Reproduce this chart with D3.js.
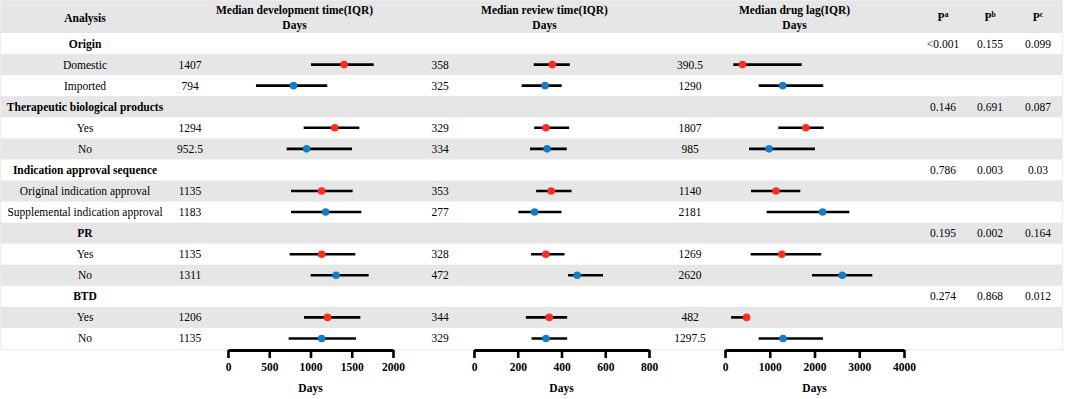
<!DOCTYPE html>
<html>
<head>
<meta charset="utf-8">
<script src="https://cdn.jsdelivr.net/npm/d3@7"></script>
<style>
  body { margin: 0; background: #fff; }
  svg { display: block; font-family: "Liberation Serif", "Times New Roman", serif; }
</style>
</head>
<body>
<div id="forest"></div>
<script>
const WIDTH = 1065;
const HEIGHT = 399;

const BAND_COLOR = '#e7e6e7';
const RED_COLOR = '#ff2d1e';
const BLUE_COLOR = '#137fc3';
const FONT_SIZE = 11.5;

// groups and their two sub-rows
const groups = ["Origin", "Therapeutic biological products", "Indication approval sequence", "PR", "BTD"];
const subLabels = [
    ["Domestic", "Imported"],
    ["Yes", "No"],
    ["Original indication approval", "Supplemental indication approval"],
    ["Yes", "No"],
    ["Yes", "No"]
];

// development time (days), one entry per sub-row
const devMedian = [1407, 794, 1294, 952.5, 1135, 1183, 1135, 1311, 1206, 1135];
const devQ1 = [1006, 339, 917, 711, 764, 764, 747, 1002, 921, 735];
const devQ3 = [1766, 1204, 1592, 1503, 1511, 1616, 1543, 1705, 1604, 1551];

// review time (days)
const revMedian = [358, 325, 329, 334, 353, 277, 328, 472, 344, 329];
const revQ1 = [273, 218, 275, 256, 284, 203, 261, 430, 237, 263];
const revQ3 = [438, 401, 435, 424, 446, 400, 414, 590, 426, 426];

// drug lag (days)
const lagMedian = [390.5, 1290, 1807, 985, 1140, 2181, 1269, 2620, 482, 1297.5];
const lagQ1 = [186, 752, 1192, 536, 581, 931, 574, 1944, 134, 752];
const lagQ3 = [1714, 2197, 2205, 2011, 1683, 2778, 2152, 3292, 540, 2190];

// p values per group
const pA = ["<0.001", "0.146", "0.786", "0.195", "0.274"];
const pB = ["0.155", "0.691", "0.003", "0.002", "0.868"];
const pC = ["0.099", "0.087", "0.03", "0.164", "0.012"];

const devTicks = [0, 500, 1000, 1500, 2000];
const revTicks = [0, 200, 400, 600, 800];
const lagTicks = [0, 1000, 2000, 3000, 4000];

// build row list: a bold header row per group, then its sub-rows
const rows = [];
let k = 0;
groups.forEach((g, gi) => {
    rows.push({ type: "group", label: g, gi: gi });
    subLabels[gi].forEach((s, si) => {
        rows.push({ type: "sub", label: s, si: si, i: k });
        k++;
    });
});

const HEADER_H = 33;
const TABLE_BOTTOM = 349;

const y = d3.scaleBand()
    .domain(d3.range(rows.length))
    .range([HEADER_H, TABLE_BOTTOM]);

// headX = centre of the column header (text column + plot column)
const panels = [
    { title: "Median development time(IQR)", med: devMedian, lo: devQ1, hi: devQ3, ticks: devTicks,
      textX: 190, headX: 294.5, x: d3.scaleLinear().domain([0, 2000]).range([228, 393]) },
    { title: "Median review time(IQR)", med: revMedian, lo: revQ1, hi: revQ3, ticks: revTicks,
      textX: 440, headX: 544.5, x: d3.scaleLinear().domain([0, 800]).range([474, 649]) },
    { title: "Median drug lag(IQR)", med: lagMedian, lo: lagQ1, hi: lagQ3, ticks: lagTicks,
      textX: 690, headX: 794.5, x: d3.scaleLinear().domain([0, 4000]).range([725, 904]) }
];

const pCols = [
    { key: "a", x: 943, vals: pA },
    { key: "b", x: 990, vals: pB },
    { key: "c", x: 1038, vals: pC }
];

const LABEL_X = 85;
const TABLE_RIGHT = 1062;

const svg = d3.select("#forest")
    .append("svg")
    .attr("width", WIDTH)
    .attr("height", HEIGHT)
    .style("font-size", `${FONT_SIZE}px`);

// alternating bands (header is gray, then white, gray, ...)
svg.append("rect")
    .attr("x", 1).attr("y", 0)
    .attr("width", TABLE_RIGHT - 1).attr("height", HEADER_H)
    .attr("fill", BAND_COLOR);

svg.append("g")
    .selectAll("rect")
    .data(rows.map((r, i) => i).filter(i => i % 2 === 1))
    .join("rect")
    .attr("x", 1)
    .attr("y", i => y(i))
    .attr("width", TABLE_RIGHT - 1)
    .attr("height", y.bandwidth())
    .attr("fill", BAND_COLOR);

// faint table outline
svg.append("rect")
    .attr("x", 0.5).attr("y", 0.5)
    .attr("width", TABLE_RIGHT).attr("height", TABLE_BOTTOM)
    .attr("fill", "none")
    .attr("stroke", "#ececec");

// header texts
const header = svg.append("g").attr("font-weight", "bold").attr("text-anchor", "middle");

header.append("text")
    .attr("x", LABEL_X).attr("y", 18).attr("dy", "0.35em")
    .text("Analysis");

panels.forEach(p => {
    header.append("text").attr("x", p.headX).attr("y", 10).attr("dy", "0.35em").text(p.title);
    header.append("text").attr("x", p.headX).attr("y", 25).attr("dy", "0.35em").text("Days");
});

pCols.forEach(c => {
    const t = header.append("text").attr("x", c.x).attr("y", 17).attr("dy", "0.35em");
    t.append("tspan").text("P");
    t.append("tspan").attr("font-size", "7.5px").attr("dy", "-0.6em").text(c.key);
});

// row labels
svg.append("g")
    .attr("text-anchor", "middle")
    .selectAll("text")
    .data(rows)
    .join("text")
    .attr("x", LABEL_X)
    .attr("y", (d, i) => y(i) + y.bandwidth() / 2)
    .attr("dy", "0.35em")
    .attr("font-weight", d => d.type === "group" ? "bold" : null)
    .text(d => d.label);

const subRows = rows.map((r, i) => Object.assign({ row: i }, r)).filter(r => r.type === "sub");
const groupRows = rows.map((r, i) => Object.assign({ row: i }, r)).filter(r => r.type === "group");

panels.forEach(p => {
    const g = svg.append("g");
    const cy = d => y(d.row) + y.bandwidth() / 2;

    // median values as text
    g.append("g")
        .attr("text-anchor", "middle")
        .selectAll("text")
        .data(subRows)
        .join("text")
        .attr("x", p.textX)
        .attr("y", cy)
        .attr("dy", "0.35em")
        .text(d => String(p.med[d.i]));

    // IQR whiskers
    g.append("g")
        .selectAll("line")
        .data(subRows)
        .join("line")
        .attr("x1", d => p.x(p.lo[d.i]))
        .attr("x2", d => p.x(p.hi[d.i]))
        .attr("y1", cy)
        .attr("y2", cy)
        .attr("stroke", "#000")
        .attr("stroke-width", 2.6);

    // median dots
    g.append("g")
        .selectAll("circle")
        .data(subRows)
        .join("circle")
        .attr("cx", d => p.x(p.med[d.i]))
        .attr("cy", cy)
        .attr("r", 3.8)
        .attr("fill", d => d.si === 0 ? RED_COLOR : BLUE_COLOR);

    // axis
    const axis = g.append("g")
        .attr("transform", `translate(0,${TABLE_BOTTOM + 1})`)
        .call(d3.axisBottom(p.x).tickValues(p.ticks).tickSize(8).tickSizeOuter(0).tickPadding(5).tickFormat(d3.format("d")));
    axis.select(".domain").attr("stroke-width", 2.8);
    axis.selectAll(".tick line").attr("stroke-width", 2.6);
    axis.selectAll(".tick text")
        .attr("font-family", "'Liberation Serif', 'Times New Roman', serif")
        .attr("font-size", FONT_SIZE)
        .attr("font-weight", "bold")
        .attr("fill", "#000");

    g.append("text")
        .attr("x", (p.x.range()[0] + p.x.range()[1]) / 2)
        .attr("y", 388)
        .attr("dy", "0.35em")
        .attr("text-anchor", "middle")
        .attr("font-weight", "bold")
        .text("Days");
});

// p values on group rows
pCols.forEach(c => {
    svg.append("g")
        .attr("text-anchor", "middle")
        .selectAll("text")
        .data(groupRows)
        .join("text")
        .attr("x", c.x)
        .attr("y", d => y(d.row) + y.bandwidth() / 2)
        .attr("dy", "0.35em")
        .text(d => c.vals[d.gi]);
});
</script>
</body>
</html>
